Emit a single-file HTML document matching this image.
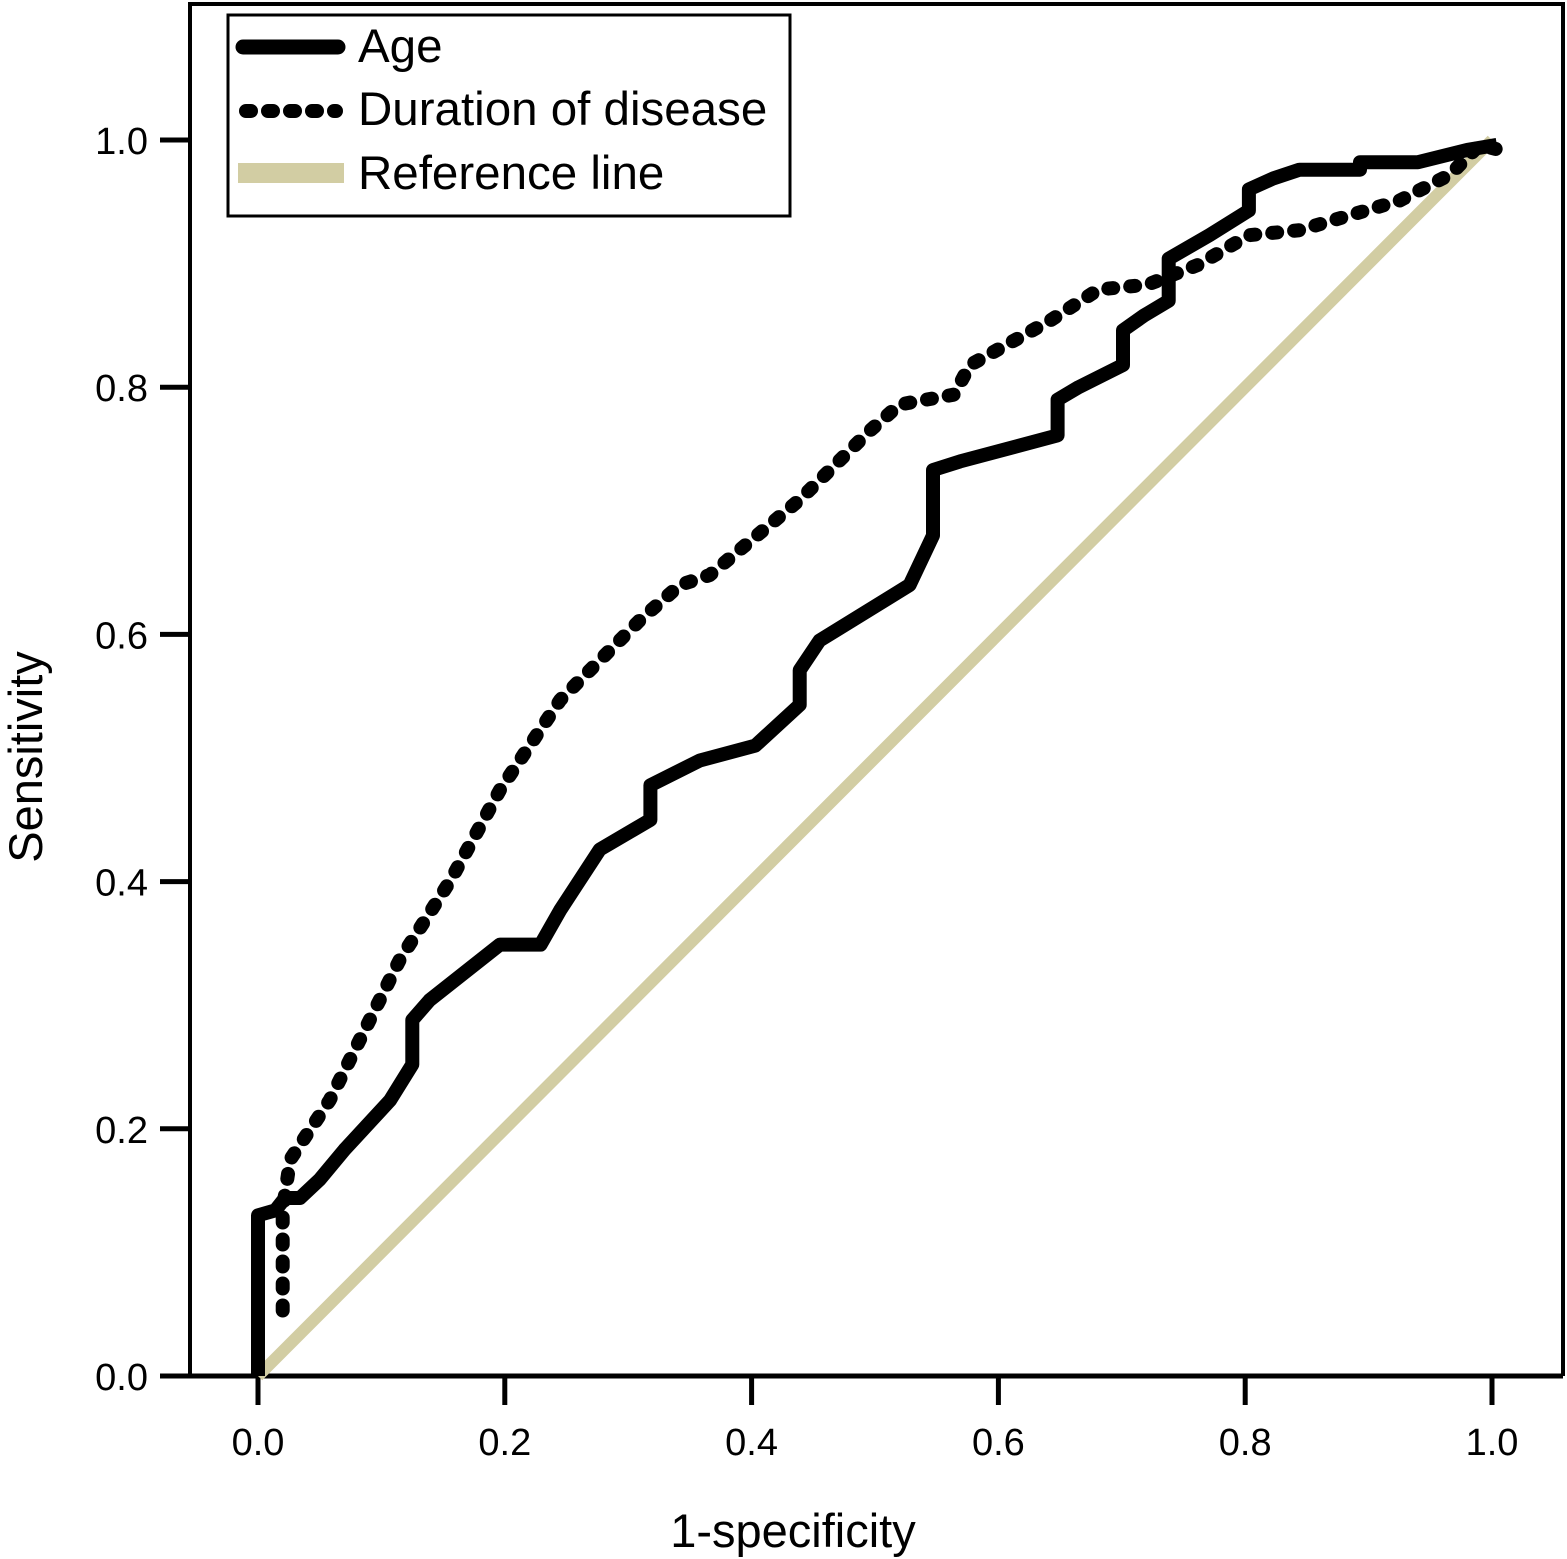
<!DOCTYPE html>
<html><head><meta charset="utf-8"><style>
html,body{margin:0;padding:0;background:#fff}
svg{display:block}
text{font-family:"Liberation Sans",Arial,sans-serif;fill:#000}
</style></head><body>
<svg id="chart" width="1567" height="1559" viewBox="0 0 1567 1559">
<g id="frame"></g>
<g id="axes"></g>
<g id="series"></g>
<g id="legend">
 <rect x="228" y="15" width="562" height="201" fill="#fff" stroke="#000" stroke-width="3"/>
 <g>
  <line x1="243" y1="47" x2="338" y2="47" stroke="#000" stroke-width="15" stroke-linecap="round"/>
  <text x="358" y="62" font-size="47.5">Age</text>
 </g>
 <g>
  <line x1="246" y1="111" x2="336" y2="111" stroke="#000" stroke-width="14" stroke-dasharray="5 17" stroke-linecap="round"/>
  <text x="358" y="125" font-size="47.5">Duration of disease</text>
 </g>
 <g>
  <line x1="238" y1="173" x2="344" y2="173" stroke="#d2cda3" stroke-width="20"/>
  <text x="358" y="189" font-size="47.5">Reference line</text>
 </g>
</g>
<text x="793" y="1547" font-size="47" text-anchor="middle">1-specificity</text>
<text x="0" y="0" font-size="47" text-anchor="middle" transform="translate(42,757) rotate(-90)">Sensitivity</text>
</svg>
<script>
const xTicks=[0,0.2,0.4,0.6,0.8,1.0];
const yTicks=[0,0.2,0.4,0.6,0.8,1.0];
const xTickLabels=["0.0","0.2","0.4","0.6","0.8","1.0"];
const yTickLabels=["0.0","0.2","0.4","0.6","0.8","1.0"];
const ageX=[0,0,0.014,0.022,0.034,0.05,0.07,0.107,0.125,0.125,0.139,0.196,0.229,0.245,0.277,0.318,0.318,0.358,0.403,0.439,0.439,0.455,0.528,0.547,0.547,0.569,0.648,0.648,0.665,0.701,0.701,0.718,0.738,0.738,0.771,0.803,0.803,0.823,0.844,0.893,0.893,0.94,0.98,1.004];
const ageY=[0,0.13,0.134,0.144,0.144,0.159,0.183,0.223,0.252,0.288,0.304,0.349,0.349,0.377,0.426,0.45,0.478,0.498,0.51,0.543,0.571,0.595,0.64,0.68,0.733,0.74,0.761,0.79,0.8,0.818,0.846,0.858,0.87,0.904,0.923,0.943,0.96,0.969,0.976,0.976,0.982,0.982,0.992,0.996];
const durX=[0.02,0.02,0.026,0.058,0.115,0.156,0.196,0.245,0.31,0.342,0.366,0.439,0.496,0.52,0.564,0.577,0.642,0.681,0.721,0.762,0.803,0.844,0.925,0.966,0.99,1.006];
const durY=[0.053,0.134,0.175,0.223,0.337,0.401,0.474,0.547,0.612,0.64,0.648,0.709,0.765,0.786,0.794,0.818,0.854,0.879,0.883,0.899,0.923,0.927,0.951,0.972,0.996,0.992];
const refX=[0,1];
const refY=[0,1];
const NS='http://www.w3.org/2000/svg';
const X0=258,X1=1492,Y0=1376,Y1=140;
function sx(v){return X0+(X1-X0)*v;}
function sy(v){return Y0-(Y0-Y1)*v;}
function mk(tag,attrs,parent){const e=document.createElementNS(NS,tag);for(const k in attrs)e.setAttribute(k,attrs[k]);parent.appendChild(e);return e;}
const frame=document.getElementById('frame'),axes=document.getElementById('axes'),series=document.getElementById('series');
const fr=mk('path',{d:'M190,1376 V4 H1563 V1376',fill:'none',stroke:'#000','stroke-width':4},frame);


const xa=mk('line',{x1:160,y1:1376,x2:1563,y2:1376,stroke:'#000','stroke-width':5},axes);


xTicks.forEach((t,i)=>{
 const l=mk('line',{x1:sx(t),y1:1376,x2:sx(t),y2:1405,stroke:'#000','stroke-width':5},axes);
 
 
 const tx=mk('text',{x:sx(t),y:1455,'font-size':38,'text-anchor':'middle'},axes);
 tx.textContent=xTickLabels[i];
 
 
});
yTicks.forEach((t,i)=>{
 const l=mk('line',{x1:160,y1:sy(t),x2:190,y2:sy(t),stroke:'#000','stroke-width':5},axes);
 
 
 const tx=mk('text',{x:148,y:sy(t)+14,'font-size':38,'text-anchor':'end'},axes);
 tx.textContent=yTickLabels[i];
 
 
});
function pts(xs,ys){return xs.map((x,i)=>sx(x).toFixed(1)+','+sy(ys[i]).toFixed(1)).join(' ');}
const r=mk('polyline',{points:pts(refX,refY),fill:'none',stroke:'#d2cda3','stroke-width':12},series);


const d=mk('polyline',{points:pts(durX,durY),fill:'none',stroke:'#000','stroke-width':14,'stroke-dasharray':'5 17','stroke-linecap':'round','stroke-linejoin':'round'},series);


const a=mk('polyline',{points:pts(ageX,ageY),fill:'none',stroke:'#000','stroke-width':14,'stroke-linejoin':'round'},series);


</script>
</body></html>
